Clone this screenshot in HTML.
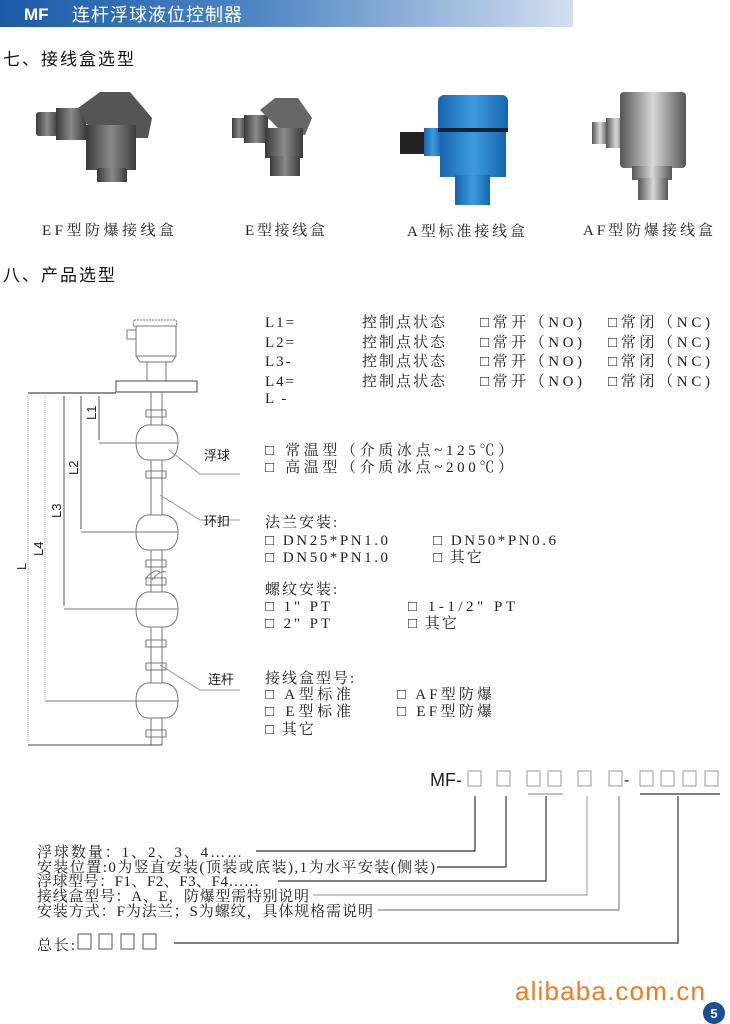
<!DOCTYPE html>
<html><head><meta charset="utf-8"><style>
html,body{margin:0;padding:0;background:#fff;}
svg{display:block;}
.t{font-family:"Liberation Serif","Noto Serif CJK SC",serif;font-size:15px;fill:#222;}
.s{font-family:"Liberation Sans","Noto Sans CJK SC",sans-serif;}
</style></head><body>
<svg width="730" height="1024" viewBox="0 0 730 1024" xmlns="http://www.w3.org/2000/svg">
<defs>
<linearGradient id="hg" x1="0" x2="1"><stop offset="0" stop-color="#1b5aa6"/><stop offset="0.45" stop-color="#4f86c4"/><stop offset="1" stop-color="#d3def0"/></linearGradient>
<linearGradient id="gr" x1="0" x2="1"><stop offset="0" stop-color="#3a3a3a"/><stop offset="0.5" stop-color="#8a8a8a"/><stop offset="1" stop-color="#3c3c3c"/></linearGradient>
<linearGradient id="bl" x1="0" x2="1"><stop offset="0" stop-color="#1565b0"/><stop offset="0.5" stop-color="#3f9be0"/><stop offset="1" stop-color="#1565b0"/></linearGradient>
<linearGradient id="st" x1="0" x2="1"><stop offset="0" stop-color="#555"/><stop offset="0.5" stop-color="#d8d8d8"/><stop offset="1" stop-color="#555"/></linearGradient>
</defs>
<rect x="0" y="0" width="573" height="27" fill="url(#hg)"/>
<text x="24" y="20" class="s" font-size="17" font-weight="bold" fill="#fff">MF</text>
<text x="72" y="21" class="s" font-size="18" fill="#fff" letter-spacing="1">连杆浮球液位控制器</text>
<text x="3" y="65" class="s" font-size="17" fill="#111" letter-spacing="2">七、接线盒选型</text>
<text x="3" y="281" class="s" font-size="17" fill="#111" letter-spacing="2">八、产品选型</text>

<g>
<rect x="36" y="112" width="22" height="24" rx="3" fill="url(#gr)"/>
<rect x="56" y="108" width="30" height="32" fill="url(#gr)"/>
<polygon points="78,108 100,92 130,92 152,118 148,138 120,138 86,124" fill="#555"/>
<rect x="86" y="125" width="50" height="45" fill="url(#gr)"/>
<rect x="97" y="168" width="30" height="14" fill="url(#gr)"/>
</g>
<g>
<rect x="232" y="118" width="14" height="20" fill="url(#gr)"/>
<rect x="244" y="115" width="24" height="28" fill="url(#gr)"/>
<polygon points="260,110 275,98 298,98 312,118 305,135 280,130" fill="#666"/>
<rect x="265" y="128" width="38" height="30" fill="url(#gr)"/>
<rect x="270" y="156" width="30" height="20" fill="url(#gr)"/>
</g>
<g>
<rect x="400" y="132" width="26" height="22" fill="#222"/>
<rect x="424" y="128" width="18" height="28" fill="url(#bl)"/>
<rect x="438" y="95" width="70" height="37" rx="6" fill="url(#bl)"/>
<rect x="438" y="128" width="70" height="4" fill="#123"/>
<rect x="440" y="132" width="66" height="45" fill="url(#bl)"/>
<rect x="455" y="175" width="35" height="30" fill="url(#bl)"/>
</g>
<g>
<rect x="592" y="122" width="16" height="22" fill="url(#st)"/>
<rect x="606" y="118" width="20" height="30" fill="url(#st)"/>
<rect x="620" y="92" width="66" height="76" rx="4" fill="url(#st)"/>
<rect x="632" y="166" width="40" height="14" fill="url(#st)"/>
<rect x="638" y="178" width="30" height="22" fill="url(#st)"/>
</g>
<g class="t" font-size="16">
<text x="42" y="235" textLength="132">EF型防爆接线盒</text>
<text x="245" y="235" textLength="80">E型接线盒</text>
<text x="407" y="236" textLength="118">A型标准接线盒</text>
<text x="583" y="235" textLength="130">AF型防爆接线盒</text>
</g>

<g fill="none" stroke="#777" stroke-width="1">
<path d="M134,320 L176,320 L177,326 L133,326Z" stroke-dasharray="2 1"/>
<rect x="127" y="330" width="9" height="9"/>
<rect x="136" y="326" width="40" height="30"/>
<path d="M136,356 L140,362 L172,362 L176,356"/>
<line x1="147" y1="362" x2="147" y2="381"/><line x1="166" y1="362" x2="166" y2="381"/>
<rect x="116" y="381" width="81" height="11" stroke="#444"/>
<line x1="151" y1="392" x2="151" y2="745"/><line x1="162" y1="392" x2="162" y2="745"/>
<path d="M147,425 L166,425 Q178,428 178,442 Q178,458 166,460 L147,460 Q136,458 136,442 Q136,428 147,425Z" fill="#fff"/>
<path d="M147,515 L166,515 Q178,518 178,532 Q178,548 166,550 L147,550 Q136,548 136,532 Q136,518 147,515Z" fill="#fff"/>
<path d="M147,592 L166,592 Q178,595 178,609 Q178,625 166,627 L147,627 Q136,625 136,609 Q136,595 147,592Z" fill="#fff"/>
<path d="M147,683 L166,683 Q178,686 178,700 Q178,716 166,718 L147,718 Q136,716 136,700 Q136,686 147,683Z" fill="#fff"/>
<rect x="146" y="410" width="20" height="7"/><rect x="146" y="471" width="20" height="7"/>
<rect x="146" y="560" width="20" height="7"/><rect x="146" y="578" width="20" height="7"/>
<rect x="146" y="640" width="20" height="7"/><rect x="146" y="663" width="20" height="7"/>
<rect x="146" y="730" width="20" height="7"/>
<path d="M146,578 Q155,568 160,572 M152,580 Q160,570 166,572"/>
<line x1="99" y1="443" x2="178" y2="443"/>
<line x1="81" y1="532" x2="178" y2="532"/>
<line x1="64" y1="609" x2="178" y2="609"/>
<line x1="45" y1="701" x2="178" y2="701"/>
<line x1="28" y1="745" x2="162" y2="745" stroke="#444"/>
<line x1="28" y1="393" x2="116" y2="393" stroke="#222"/>
<line x1="99" y1="396" x2="99" y2="440" stroke="#555"/>
<line x1="81" y1="396" x2="81" y2="529" stroke="#555"/>
<line x1="64" y1="396" x2="64" y2="606" stroke="#555"/>
<line x1="45" y1="396" x2="45" y2="699" stroke="#aaa" stroke-dasharray="1 1"/>
<line x1="28" y1="396" x2="28" y2="742" stroke="#aaa" stroke-dasharray="1 1"/>
<path d="M169,450 L200,474 L240,474 M160,495 L200,520 L240,520 M160,665 L200,690 L240,690" stroke="#999"/>
</g>
<g class="s" font-size="13" fill="#222">
<text x="204" y="460">浮球</text><text x="204" y="526">环扣</text><text x="208" y="684">连杆</text>
<text transform="translate(96,420) rotate(-90)">L1</text>
<text transform="translate(78,475) rotate(-90)">L2</text>
<text transform="translate(61,518) rotate(-90)">L3</text>
<text transform="translate(43,556) rotate(-90)">L4</text>
<text transform="translate(26,570) rotate(-90)">L</text>
</g>

<g class="t" letter-spacing="2">
<text x="265" y="327">L1=</text><text x="362" y="327">控制点状态</text><text x="480" y="327" textLength="104">□常开（NO)</text><text x="608" y="327" textLength="104">□常闭（NC)</text>
<text x="265" y="347">L2=</text><text x="362" y="347">控制点状态</text><text x="480" y="347" textLength="104">□常开（NO)</text><text x="608" y="347" textLength="104">□常闭（NC)</text>
<text x="265" y="366">L3-</text><text x="362" y="366">控制点状态</text><text x="480" y="366" textLength="104">□常开（NO)</text><text x="608" y="366" textLength="104">□常闭（NC)</text>
<text x="265" y="386">L4=</text><text x="362" y="386">控制点状态</text><text x="480" y="386" textLength="104">□常开（NO)</text><text x="608" y="386" textLength="104">□常闭（NC)</text>
<text x="265" y="403">L -</text>
<text x="265" y="455" textLength="250">□ 常温型（介质冰点~125℃）</text>
<text x="265" y="472" textLength="250">□ 高温型（介质冰点~200℃）</text>
<text x="265" y="527">法兰安装:</text>
<text x="265" y="545" textLength="125">□ DN25*PN1.0</text><text x="433" y="545" textLength="125">□ DN50*PN0.6</text>
<text x="265" y="562" textLength="125">□ DN50*PN1.0</text><text x="433" y="562">□ 其它</text>
<text x="265" y="594">螺纹安装:</text>
<text x="265" y="611" textLength="67">□ 1" PT</text><text x="408" y="611" textLength="109">□ 1-1/2" PT</text>
<text x="265" y="628" textLength="67">□ 2" PT</text><text x="408" y="628">□ 其它</text>
<text x="265" y="683">接线盒型号:</text>
<text x="265" y="699" textLength="88">□ A型标准</text><text x="397" y="699" textLength="97">□ AF型防爆</text>
<text x="265" y="716" textLength="88">□ E型标准</text><text x="397" y="716" textLength="97">□ EF型防爆</text>
<text x="265" y="734">□ 其它</text>
</g>

<text x="430" y="786" class="s" font-size="18" fill="#222">MF-</text>
<g fill="none" stroke="#999">
<rect x="468" y="771" width="13" height="15"/><rect x="497" y="771" width="13" height="15"/>
<rect x="527" y="771" width="13" height="15"/><rect x="548" y="771" width="13" height="15"/>
<rect x="578" y="771" width="13" height="15"/><rect x="609" y="771" width="13" height="15"/>
<rect x="640" y="771" width="13" height="15"/><rect x="661" y="771" width="13" height="15"/>
<rect x="683" y="771" width="13" height="15"/><rect x="705" y="771" width="13" height="15"/>
</g>
<text x="624" y="785" class="s" font-size="16" fill="#222">-</text>
<g fill="none" stroke="#333" stroke-width="1.2">
<line x1="528" y1="794" x2="563" y2="794" stroke="#999"/>
<line x1="640" y1="794" x2="720" y2="794"/>
<polyline points="256,851 475,851 475,796"/>
<polyline points="437,867 506,867 506,796"/>
<polyline points="278,881 546,881 546,796"/>
<polyline points="313,895 587,895 587,796" stroke="#aaa"/>
<polyline points="378,910 619,910 619,796" stroke="#888"/>
<polyline points="174,943 678,943 678,796"/>
</g>
<g class="t" font-size="16">
<text x="37" y="857" textLength="205">浮球数量：1、2、3、4……</text>
<text x="37" y="872" textLength="398">安装位置:0为竖直安装(顶装或底装),1为水平安装(侧装)</text>
<text x="37" y="886" textLength="222">浮球型号：F1、F2、F3、F4……</text>
<text x="37" y="901" textLength="272">接线盒型号：A、E，防爆型需特别说明</text>
<text x="37" y="916" textLength="336">安装方式：F为法兰；S为螺纹，具体规格需说明</text>
<text x="37" y="950" textLength="38">总长:</text>
</g>
<g fill="none" stroke="#555">
<rect x="78" y="934" width="13" height="15"/><rect x="99" y="934" width="13" height="15"/>
<rect x="121" y="934" width="13" height="15"/><rect x="143" y="934" width="13" height="15"/>
</g>
<text x="515" y="1000" class="s" font-size="26" fill="#f07a1c" textLength="190">alibaba.com.cn</text>
<circle cx="714" cy="1013" r="11" fill="#1b4f91"/>
<text x="714" y="1018" class="s" font-size="13" font-weight="bold" fill="#fff" text-anchor="middle">5</text>
</svg>
</body></html>
